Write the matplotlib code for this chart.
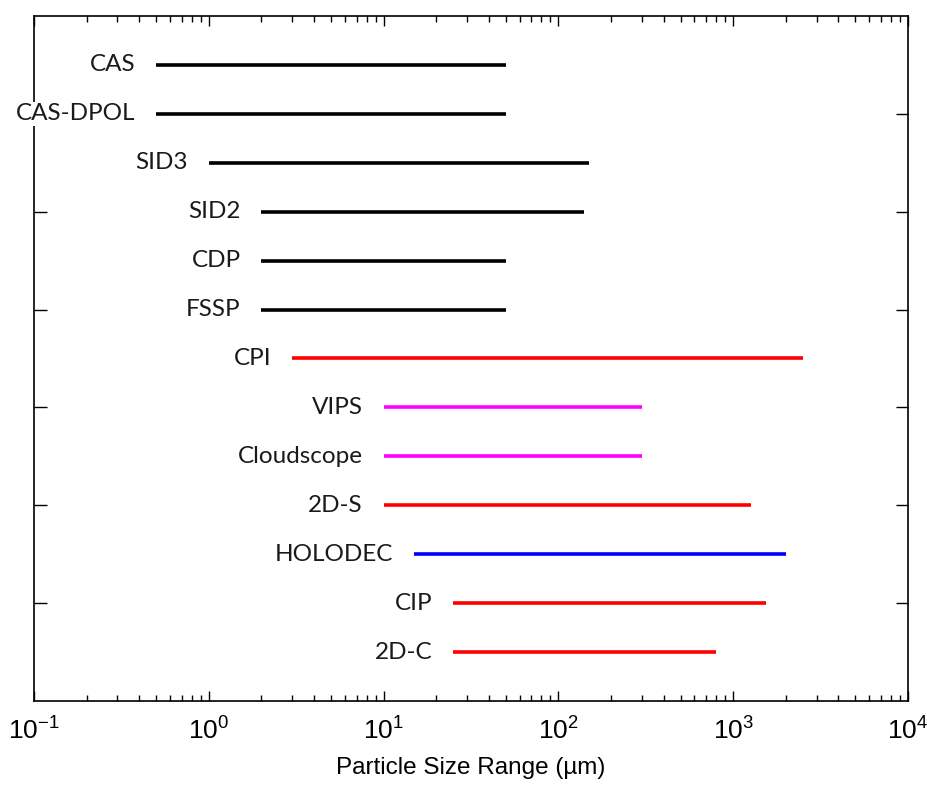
import matplotlib
matplotlib.use("Agg")
import matplotlib.pyplot as plt
from matplotlib.ticker import LogLocator, FuncFormatter, NullFormatter
import math

instruments = ["CAS", "CAS-DPOL", "SID3", "SID2", "CDP", "FSSP", "CPI", "VIPS",
               "Cloudscope", "2D-S", "HOLODEC", "CIP", "2D-C"]
size_min = [0.5, 0.5, 1, 2, 2, 2, 3, 10, 10, 10, 15, 25, 25]
size_max = [50, 50, 150, 140, 50, 50, 2500, 300, 300, 1260, 2000, 1550, 800]
colors = ["black", "black", "black", "black", "black", "black", "red", "magenta",
          "magenta", "red", "blue", "red", "red"]
positions = list(range(1, len(instruments) + 1))
y_ticks = [2, 4, 6, 8, 10, 12]

axis_font = 'Liberation Sans'
plt.rcParams['mathtext.fontset'] = 'custom'
plt.rcParams['mathtext.rm'] = axis_font
plt.rcParams['mathtext.it'] = axis_font

fig = plt.figure(figsize=(9.28, 7.85), dpi=100)
ax = fig.add_axes([34/928, 1 - 701/785, (908-34)/928, (701-16)/785])

for name, lo, hi, c, y in zip(instruments, size_min, size_max, colors, positions):
    ax.plot([lo, hi], [y, y], color=c, lw=2.6, solid_capstyle='butt', zorder=2)
    ax.annotate(name, xy=(lo, y), xytext=(-15, 0), textcoords='offset points',
                ha='right', va='center', fontsize=17.5, family='Lato',
                color='#1a1a1a', zorder=5,
                bbox=dict(boxstyle='square,pad=0.05', fc='white', ec='none'))

ax.set_xscale('log')
ax.set_xlim(0.1, 1e4)
ax.set_ylim(14, 0)
ax.set_yticks(y_ticks)
ax.set_yticklabels([])
ax.xaxis.set_major_locator(LogLocator(base=10, numticks=10))
ax.xaxis.set_minor_locator(LogLocator(base=10, subs=range(2, 10), numticks=20))
ax.xaxis.set_minor_formatter(NullFormatter())

def fmt(v, pos):
    e = int(round(math.log10(v)))
    return r'$\mathregular{10^{%d}}$' % e
ax.xaxis.set_major_formatter(FuncFormatter(fmt))

ax.tick_params(axis='x', which='major', direction='in', length=7, width=1,
               top=True, bottom=True, labelsize=19, pad=12)
ax.tick_params(axis='x', which='minor', direction='in', length=4.5, width=1,
               top=True, bottom=True)
ax.tick_params(axis='y', which='major', direction='in', length=9, width=1,
               left=True, right=True)
for s in ax.spines.values():
    s.set_linewidth(1.2)
for lab in ax.get_xticklabels():
    lab.set_family(axis_font)

ax.set_xlabel('Particle Size Range (µm)', fontsize=17.5,
              family=axis_font, labelpad=9)

fig.savefig('out.png', dpi=100)
